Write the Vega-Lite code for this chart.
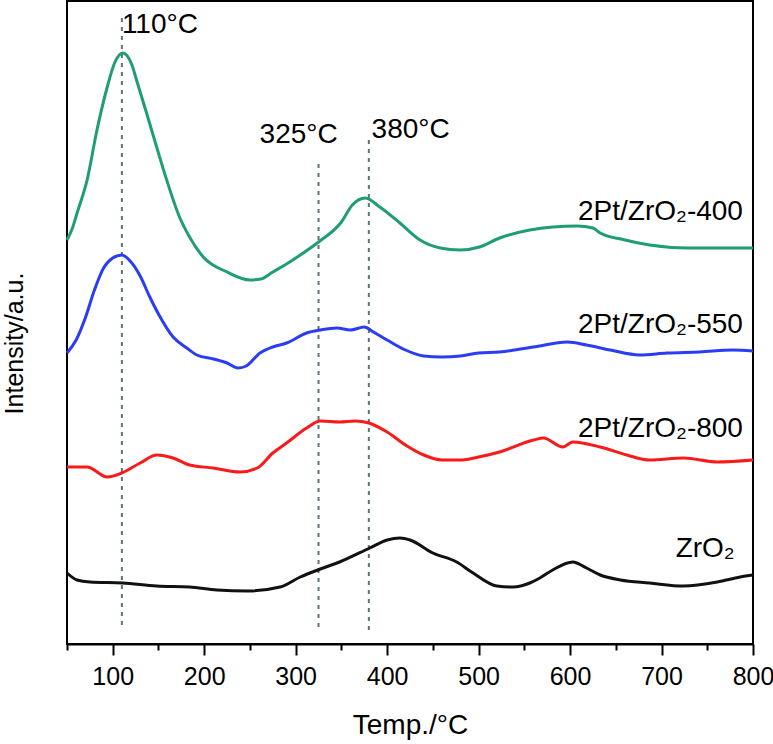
{
  "$schema": "https://vega.github.io/schema/vega-lite/v6.json",
  "width": 686,
  "height": 643,
  "autosize": {"type": "none"},
  "padding": {"left": 67, "top": 1, "right": 20, "bottom": 100},
  "background": "white",
  "config": {"view": {"stroke": "black", "strokeWidth": 2}, "font": "Liberation Sans"},
  "datasets": {
    "curves": [
      {"s": "400", "T": 50, "v": 404}, {"s": "400", "T": 56, "v": 416}, {"s": "400", "T": 61, "v": 431}, {"s": "400", "T": 72, "v": 464}, {"s": "400", "T": 83, "v": 515}, {"s": "400", "T": 94, "v": 557}, {"s": "400", "T": 102, "v": 581}, {"s": "400", "T": 111, "v": 591}, {"s": "400", "T": 121, "v": 579}, {"s": "400", "T": 126, "v": 564}, {"s": "400", "T": 137, "v": 531}, {"s": "400", "T": 148, "v": 497}, {"s": "400", "T": 159, "v": 464}, {"s": "400", "T": 173, "v": 427}, {"s": "400", "T": 184, "v": 407}, {"s": "400", "T": 199, "v": 387}, {"s": "400", "T": 225, "v": 372}, {"s": "400", "T": 250, "v": 364}, {"s": "400", "T": 262, "v": 365}, {"s": "400", "T": 275, "v": 372}, {"s": "400", "T": 290, "v": 380}, {"s": "400", "T": 305, "v": 389}, {"s": "400", "T": 325, "v": 402}, {"s": "400", "T": 350, "v": 422}, {"s": "400", "T": 362, "v": 439}, {"s": "400", "T": 376, "v": 446}, {"s": "400", "T": 392, "v": 437}, {"s": "400", "T": 414, "v": 421}, {"s": "400", "T": 436, "v": 404}, {"s": "400", "T": 458, "v": 396}, {"s": "400", "T": 480, "v": 394}, {"s": "400", "T": 501, "v": 397}, {"s": "400", "T": 523, "v": 406}, {"s": "400", "T": 556, "v": 414}, {"s": "400", "T": 581, "v": 417}, {"s": "400", "T": 608, "v": 418}, {"s": "400", "T": 625, "v": 416}, {"s": "400", "T": 633, "v": 411}, {"s": "400", "T": 660, "v": 404}, {"s": "400", "T": 687, "v": 399}, {"s": "400", "T": 728, "v": 396}, {"s": "400", "T": 772, "v": 396}, {"s": "400", "T": 800, "v": 396},
      {"s": "550", "T": 50, "v": 291}, {"s": "550", "T": 60, "v": 304}, {"s": "550", "T": 70, "v": 326}, {"s": "550", "T": 80, "v": 354}, {"s": "550", "T": 90, "v": 376}, {"s": "550", "T": 100, "v": 386}, {"s": "550", "T": 110, "v": 389}, {"s": "550", "T": 120, "v": 382}, {"s": "550", "T": 130, "v": 368}, {"s": "550", "T": 140, "v": 348}, {"s": "550", "T": 150, "v": 330}, {"s": "550", "T": 166, "v": 307}, {"s": "550", "T": 181, "v": 296}, {"s": "550", "T": 192, "v": 289}, {"s": "550", "T": 210, "v": 285}, {"s": "550", "T": 225, "v": 281}, {"s": "550", "T": 237, "v": 276}, {"s": "550", "T": 246, "v": 278}, {"s": "550", "T": 261, "v": 291}, {"s": "550", "T": 275, "v": 297}, {"s": "550", "T": 290, "v": 301}, {"s": "550", "T": 312, "v": 311}, {"s": "550", "T": 327, "v": 314}, {"s": "550", "T": 345, "v": 316}, {"s": "550", "T": 360, "v": 314}, {"s": "550", "T": 375, "v": 317}, {"s": "550", "T": 385, "v": 312}, {"s": "550", "T": 400, "v": 304}, {"s": "550", "T": 420, "v": 294}, {"s": "550", "T": 440, "v": 288}, {"s": "550", "T": 460, "v": 287}, {"s": "550", "T": 480, "v": 288}, {"s": "550", "T": 500, "v": 291}, {"s": "550", "T": 523, "v": 292}, {"s": "550", "T": 560, "v": 297}, {"s": "550", "T": 597, "v": 302}, {"s": "550", "T": 618, "v": 299}, {"s": "550", "T": 644, "v": 294}, {"s": "550", "T": 676, "v": 289}, {"s": "550", "T": 706, "v": 291}, {"s": "550", "T": 742, "v": 292}, {"s": "550", "T": 778, "v": 294}, {"s": "550", "T": 800, "v": 293},
      {"s": "800", "T": 50, "v": 177}, {"s": "800", "T": 72, "v": 177}, {"s": "800", "T": 94, "v": 167}, {"s": "800", "T": 110, "v": 171}, {"s": "800", "T": 130, "v": 181}, {"s": "800", "T": 148, "v": 189}, {"s": "800", "T": 166, "v": 186}, {"s": "800", "T": 184, "v": 179}, {"s": "800", "T": 210, "v": 176}, {"s": "800", "T": 239, "v": 172}, {"s": "800", "T": 258, "v": 176}, {"s": "800", "T": 275, "v": 191}, {"s": "800", "T": 290, "v": 201}, {"s": "800", "T": 312, "v": 216}, {"s": "800", "T": 327, "v": 223}, {"s": "800", "T": 348, "v": 222}, {"s": "800", "T": 365, "v": 223}, {"s": "800", "T": 380, "v": 221}, {"s": "800", "T": 400, "v": 212}, {"s": "800", "T": 420, "v": 199}, {"s": "800", "T": 440, "v": 189}, {"s": "800", "T": 460, "v": 184}, {"s": "800", "T": 480, "v": 184}, {"s": "800", "T": 500, "v": 187}, {"s": "800", "T": 523, "v": 192}, {"s": "800", "T": 560, "v": 204}, {"s": "800", "T": 571, "v": 206}, {"s": "800", "T": 592, "v": 197}, {"s": "800", "T": 603, "v": 202}, {"s": "800", "T": 633, "v": 197}, {"s": "800", "T": 662, "v": 189}, {"s": "800", "T": 687, "v": 184}, {"s": "800", "T": 724, "v": 186}, {"s": "800", "T": 761, "v": 182}, {"s": "800", "T": 800, "v": 184},
      {"s": "ZrO2", "T": 50, "v": 71}, {"s": "ZrO2", "T": 61, "v": 64}, {"s": "ZrO2", "T": 75, "v": 62}, {"s": "ZrO2", "T": 111, "v": 61}, {"s": "ZrO2", "T": 148, "v": 58}, {"s": "ZrO2", "T": 184, "v": 57}, {"s": "ZrO2", "T": 214, "v": 54}, {"s": "ZrO2", "T": 247, "v": 53}, {"s": "ZrO2", "T": 283, "v": 57}, {"s": "ZrO2", "T": 305, "v": 67}, {"s": "ZrO2", "T": 327, "v": 75}, {"s": "ZrO2", "T": 348, "v": 82}, {"s": "ZrO2", "T": 381, "v": 96}, {"s": "ZrO2", "T": 400, "v": 104}, {"s": "ZrO2", "T": 414, "v": 106}, {"s": "ZrO2", "T": 425, "v": 104}, {"s": "ZrO2", "T": 450, "v": 91}, {"s": "ZrO2", "T": 476, "v": 82}, {"s": "ZrO2", "T": 494, "v": 71}, {"s": "ZrO2", "T": 520, "v": 58}, {"s": "ZrO2", "T": 538, "v": 57}, {"s": "ZrO2", "T": 556, "v": 61}, {"s": "ZrO2", "T": 567, "v": 66}, {"s": "ZrO2", "T": 581, "v": 74}, {"s": "ZrO2", "T": 603, "v": 82}, {"s": "ZrO2", "T": 618, "v": 76}, {"s": "ZrO2", "T": 633, "v": 69}, {"s": "ZrO2", "T": 655, "v": 64}, {"s": "ZrO2", "T": 687, "v": 61}, {"s": "ZrO2", "T": 724, "v": 58}, {"s": "ZrO2", "T": 761, "v": 62}, {"s": "ZrO2", "T": 786, "v": 67}, {"s": "ZrO2", "T": 800, "v": 69}
    ],
    "refs": [
      {"T": 110, "v1": 19, "v2": 629},
      {"T": 325, "v1": 17, "v2": 484},
      {"T": 380, "v1": 14, "v2": 509}
    ],
    "leftLabels": [
      {"label": "110°C", "T": 110, "v": 611},
      {"label": "380°C", "T": 383, "v": 506}
    ],
    "rightLabels": [
      {"label": "325°C", "T": 346, "v": 501},
      {"label": "2Pt/ZrO₂-400", "T": 789, "v": 424},
      {"label": "2Pt/ZrO₂-550", "T": 789, "v": 311},
      {"label": "2Pt/ZrO₂-800", "T": 789, "v": 207},
      {"label": "ZrO₂", "T": 780, "v": 87}
    ]
  },
  "layer": [
    {
      "data": {"name": "refs"},
      "mark": {"type": "rule", "color": "#5f7378", "strokeWidth": 2, "strokeDash": [4, 5]},
      "encoding": {
        "x": {"field": "T", "type": "quantitative", "scale": {"domain": [50, 800], "nice": false, "zero": false}},
        "y": {"field": "v1", "type": "quantitative", "scale": {"domain": [0, 643], "nice": false, "zero": false}},
        "y2": {"field": "v2"}
      }
    },
    {
      "data": {"name": "curves"},
      "mark": {"type": "line", "strokeWidth": 3, "interpolate": "monotone"},
      "encoding": {
        "x": {
          "field": "T", "type": "quantitative",
          "scale": {"domain": [50, 800], "nice": false, "zero": false},
          "axis": {
            "values": [50, 100, 150, 200, 250, 300, 350, 400, 450, 500, 550, 600, 650, 700, 750, 800],
            "labelExpr": "datum.value % 100 === 0 ? datum.label : ''",
            "tickSize": {"condition": {"test": "datum.value % 100 === 0", "value": 11}, "value": 6},
            "tickColor": "black", "tickWidth": 2,
            "domainColor": "black", "domainWidth": 2,
            "labelFontSize": 25, "labelColor": "black", "labelFont": "Liberation Sans",
            "labelPadding": 9, "labelFlush": false, "labelOverlap": false,
            "grid": false,
            "title": "Temp./°C", "titleFont": "Liberation Sans", "titleFontSize": 28,
            "titleFontWeight": "normal", "titleColor": "black", "titlePadding": 22
          }
        },
        "y": {
          "field": "v", "type": "quantitative",
          "scale": {"domain": [0, 643], "nice": false, "zero": false},
          "axis": {
            "title": "Intensity/a.u.", "ticks": false, "labels": false, "domain": false, "grid": false,
            "titleFont": "Liberation Sans", "titleFontSize": 25, "titleFontWeight": "normal",
            "titleColor": "black", "titlePadding": 40, "titleY": 342
          }
        },
        "color": {
          "field": "s", "type": "nominal", "legend": null,
          "scale": {"domain": ["400", "550", "800", "ZrO2"], "range": ["#1f9e74", "#2b3cf5", "#fa1a1a", "#111111"]}
        }
      }
    },
    {
      "data": {"name": "leftLabels"},
      "mark": {"type": "text", "align": "left", "baseline": "alphabetic", "fontSize": 28, "font": "Liberation Sans", "color": "black"},
      "encoding": {
        "x": {"field": "T", "type": "quantitative"},
        "y": {"field": "v", "type": "quantitative"},
        "text": {"field": "label"}
      }
    },
    {
      "data": {"name": "rightLabels"},
      "mark": {"type": "text", "align": "right", "baseline": "alphabetic", "fontSize": 28, "font": "Liberation Sans", "color": "black"},
      "encoding": {
        "x": {"field": "T", "type": "quantitative"},
        "y": {"field": "v", "type": "quantitative"},
        "text": {"field": "label"}
      }
    }
  ]
}
